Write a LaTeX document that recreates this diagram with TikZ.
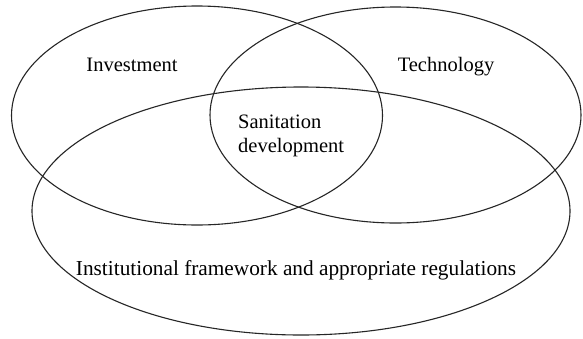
\documentclass[tikz,border=0pt]{standalone}
\usepackage{fontspec}
\setmainfont{Liberation Serif}
\begin{document}
\begin{tikzpicture}[x=1pt,y=-1pt,
  venn/.style={draw=black!85,line width=1.1pt},
  lbl/.style={font=\fontsize{20.5}{24}\selectfont,inner sep=0pt}]
\useasboundingbox (0,0) rectangle (583,338);
\fill[white] (0,0) rectangle (583,338);
\draw[venn] (197,115.5) ellipse [x radius=185.5, y radius=109.5];
\draw[venn] (395.5,115) ellipse [x radius=185.5, y radius=108];
\draw[venn] (301,211) ellipse [x radius=269, y radius=124];
\node[lbl,anchor=base] (inv) at (132,71) {Investment};
\node[lbl,anchor=base] (tech) at (446,71) {Technology};
\node[lbl,anchor=base west] (san) at (238,128) {Sanitation};
\node[lbl,anchor=base west] (dev) at (238,152) {development};
\node[lbl,anchor=base,font=\fontsize{21.3}{24}\selectfont] (inst) at (296,275) {Institutional framework and appropriate regulations};
\end{tikzpicture}
\end{document}
